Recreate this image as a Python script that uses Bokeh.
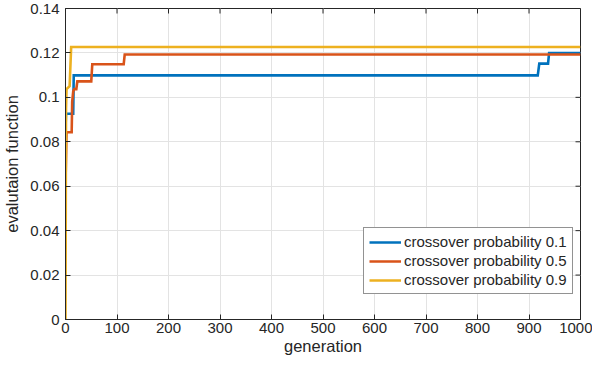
import math
from bokeh.plotting import figure
from bokeh.models import FixedTicker, Range1d, Legend, LegendItem
from bokeh.embed import file_html
from bokeh.resources import INLINE

# ---- data ----
gen_p01 = [0, 1, 15, 16, 917, 920, 937, 939, 1000]
val_p01 = [0.086, 0.0926, 0.0926, 0.1099, 0.1099, 0.1152, 0.1152, 0.1199, 0.1199]

gen_p05 = [0, 2, 12, 13, 15, 17, 21, 23, 50, 52, 113, 115, 1000]
val_p05 = [0.061, 0.0843, 0.0843, 0.098, 0.1027, 0.1037, 0.1037, 0.1072, 0.1072,
           0.1149, 0.1149, 0.1193, 0.1193]

gen_p09 = [0, 1, 2, 8, 11, 1000]
val_p09 = [0.0, 0.095, 0.1037, 0.105, 0.1227, 0.1227]

series_labels = ["crossover probability 0.1", "crossover probability 0.5",
                 "crossover probability 0.9"]

x_ticks = [0, 100, 200, 300, 400, 500, 600, 700, 800, 900, 1000]
y_ticks = [0, 0.02, 0.04, 0.06, 0.08, 0.1, 0.12, 0.14]
y_tick_labels = ["0", "0.02", "0.04", "0.06", "0.08", "0.1", "0.12", "0.14"]

x_label = "generation"
y_label = "evalutaion function"

# ---- styling ----
FONT = "Liberation Sans"
TXT = "#262626"
COLORS = ["#0072BD", "#D95319", "#EDB120"]

x_min, x_max = x_ticks[0], x_ticks[-1]
y_min, y_max = y_ticks[0], y_ticks[-1]

p = figure(width=592, height=357, output_backend="svg", toolbar_location=None,
           x_range=Range1d(x_min, x_max), y_range=Range1d(y_min, y_max),
           min_border_left=56, min_border_right=12, min_border_top=8,
           min_border_bottom=10)
p.background_fill_color = "white"
p.border_fill_color = "white"
p.outline_line_color = TXT
p.outline_line_width = 1

for ax in [p.xaxis[0], p.yaxis[0]]:
    ax.axis_line_color = TXT
    ax.major_tick_line_color = TXT
    ax.major_tick_in = 5
    ax.major_tick_out = 0
    ax.minor_tick_line_color = None
    ax.major_label_text_font = FONT
    ax.major_label_text_font_size = "15px"
    ax.major_label_text_color = TXT
    ax.axis_label_text_font = FONT
    ax.axis_label_text_font_size = "16.5px"
    ax.axis_label_text_font_style = "normal"
    ax.axis_label_text_color = TXT

p.xaxis[0].ticker = FixedTicker(ticks=x_ticks)
p.yaxis[0].ticker = FixedTicker(ticks=y_ticks)
p.yaxis[0].major_label_overrides = {t: l for t, l in zip(y_ticks, y_tick_labels)}
p.xaxis[0].axis_label = x_label
p.yaxis[0].axis_label = y_label
p.xaxis[0].major_label_standoff = 3
p.xaxis[0].axis_label_standoff = 1
p.yaxis[0].major_label_standoff = 6
p.yaxis[0].axis_label_standoff = 6

p.xgrid.ticker = FixedTicker(ticks=x_ticks)
p.ygrid.ticker = FixedTicker(ticks=y_ticks)
p.xgrid.grid_line_color = "#e3e3e3"
p.ygrid.grid_line_color = "#e3e3e3"

# inward ticks on the top and right edges of the box
p.ray(x=x_ticks, y=[y_max] * len(x_ticks), length=5, length_units="screen",
      angle=-math.pi / 2, line_color=TXT, line_width=1)
p.ray(x=[x_max] * len(y_ticks), y=y_ticks, length=5, length_units="screen",
      angle=math.pi, line_color=TXT, line_width=1)

renderers = []
for xs, ys, c in [(gen_p01, val_p01, COLORS[0]),
                  (gen_p05, val_p05, COLORS[1]),
                  (gen_p09, val_p09, COLORS[2])]:
    r = p.line(xs, ys, line_color=c, line_width=2.6, line_join="miter")
    renderers.append(r)

legend = Legend(items=[LegendItem(label=l, renderers=[r]) for l, r in zip(series_labels, renderers)],
                location=(298, 25))
legend.label_text_font = FONT
legend.label_text_font_size = "15px"
legend.label_text_color = TXT
legend.glyph_width = 32
legend.glyph_height = 16
legend.label_height = 16
legend.label_standoff = 3
legend.spacing = 2
legend.padding = 5
legend.margin = 0
legend.border_line_color = "#262626"
legend.border_line_width = 1
legend.background_fill_color = "white"
legend.background_fill_alpha = 1
p.add_layout(legend, "center")

open("out.html", "w").write(file_html(p, INLINE))
